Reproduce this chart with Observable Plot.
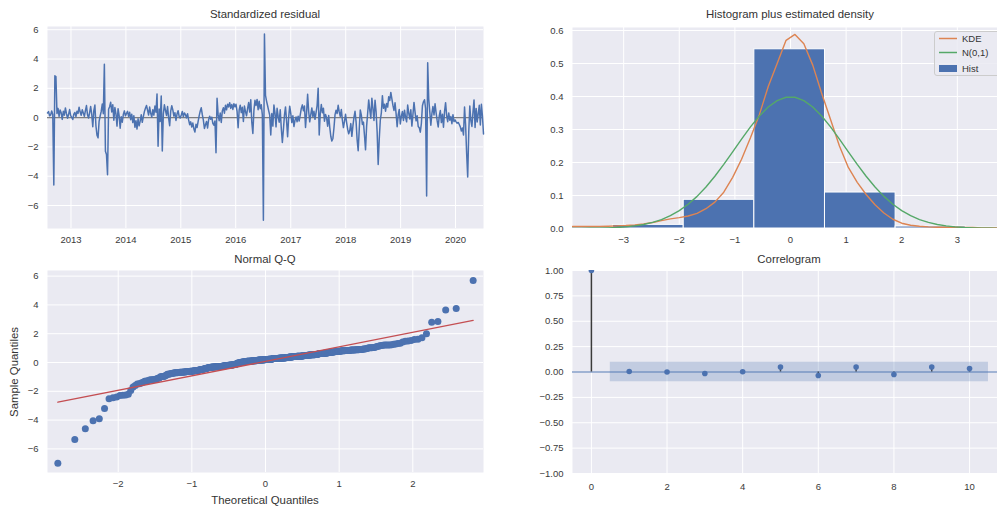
<!DOCTYPE html>
<html><head><meta charset="utf-8">
<script src="https://cdn.jsdelivr.net/npm/d3@7"></script>
<script src="https://cdn.jsdelivr.net/npm/@observablehq/plot@0.6"></script>
<style>
body{margin:0;background:#fff;}
#wrap{position:relative;width:997px;height:508px;overflow:hidden;background:#fff;font-family:"Liberation Sans",Arial,sans-serif;color:#333;}
.lbl{position:absolute;white-space:nowrap;line-height:1;}
</style></head><body><div id="wrap"></div>
<script>
// ---------- data ----------
const startDate = "2012-07-29"; // first weekly observation
const resid2012 = [0.32,0.41,0.12,0.18,0.45,0.22,-4.6,2.85,2.8,0.28,0.63,0.08,0.52,0.33,-0.12,0.43,0.17,0.66,0.27,-0.04,0.21,0.55,0.13];
const resid2013 = [0.02,-0.13,0.24,0.35,0.07,0.44,0.29,0.71,0.38,0.16,0.53,0.31,0.09,0.47,0.82,0.19,-0.03,0.34,0.76,0.23,-0.62,0.48,0.86,-0.57,-1.2,-1.38,-0.26,0.11,0.42,0.93,0.27,3.65,-2.3,-2.52,-3.9,0.57,0.74,1.05,0.39,0.88,-0.18,0.69,0.26,-0.58,0.61,0.14,-0.72,0.06,-0.31,0.21,0.46,0.12];
const resid2014 = [0.28,0.43,0.09,0.36,-0.14,0.23,-0.34,0.13,-0.66,-0.21,-0.78,-0.08,-0.56,-0.24,0.19,-0.32,0.07,0.41,0.64,0.83,0.51,0.18,0.72,0.29,0.04,0.54,0.17,0.79,0.37,1.62,-1.95,0.58,-0.27,1.48,-2.28,0.26,0.87,0.49,0.15,0.76,-0.02,-0.55,0.44,0.81,0.52,0.11,0.33,-0.19,0.24,0.47,0.08,-0.03];
const resid2015 = [0.18,0.42,0.06,0.32,0.21,-0.02,0.27,-0.16,-0.48,-0.29,-0.64,-0.37,-0.77,-0.98,-0.46,-0.68,-0.28,0.12,0.44,0.67,0.2,-0.17,-0.74,-0.49,-0.26,-0.71,-0.14,0.09,-0.11,0.03,-0.39,-0.52,-0.23,-2.4,1.32,0.22,-0.21,0.31,-0.33,0.46,0.68,0.3,0.84,0.53,0.92,0.73,1.02,0.63,0.89,0.56,0.95,0.74];
const resid2016 = [0.91,0.43,-0.69,0.52,0.85,0.34,0.71,-0.27,0.79,0.41,0.13,0.62,1.03,0.38,1.22,-0.33,-1.08,0.49,1.18,0.83,1.24,0.54,1.12,0.61,0.88,0.19,-7.0,5.7,1.52,1.13,0.81,0.48,0.17,-1.19,0.28,-0.58,0.86,0.32,-0.63,0.64,0.08,-0.31,0.53,-0.74,-1.7,-0.82,0.16,0.73,-0.22,-1.31,0.02,0.78];
const resid2017 = [0.29,-0.34,0.12,-0.61,-0.19,0.04,-0.28,0.1,-0.23,0.18,0.63,0.87,0.47,0.79,-0.67,0.31,1.6,0.42,-0.29,0.21,0.66,0.07,0.43,-0.12,0.34,0.82,2.0,-1.18,0.27,0.89,0.33,0.64,-0.24,0.22,-0.01,-0.59,0.14,-0.66,-1.27,-1.6,-1.42,-0.71,0.19,0.51,0.28,0.84,0.39,0.09,0.55,-0.17,-0.68,-0.26,0.23];
const resid2018 = [-0.32,-0.79,-1.1,-0.88,-0.41,-1.28,-0.57,0.01,0.43,-0.27,-1.5,-2.26,-0.81,0.52,0.17,-0.47,-0.31,-1.22,-2.2,-0.6,0.29,1.21,0.53,-0.04,1.33,0.62,-0.19,1.19,0.41,-0.97,-3.2,-1.48,-0.18,0.32,1.5,0.64,0.91,0.44,0.97,0.72,1.43,1.17,1.72,1.28,0.83,0.49,1.01,0.27,-0.62,0.19,0.56,-0.43];
const resid2019 = [0.08,0.42,-0.19,0.51,0.02,-0.29,0.86,0.31,-0.09,0.54,-0.58,0.21,1.04,0.38,-0.22,0.12,-0.61,-0.69,-0.99,-0.41,0.81,1.08,1.22,0.62,-5.35,3.75,1.27,0.39,-0.52,0.28,0.76,0.18,0.94,0.33,-0.21,-0.64,0.11,0.48,-0.34,0.23,-0.66,0.41,1.02,0.16,-0.28,0.32,-0.18,0.07,-0.42,0.2,-0.27,-0.16];
const resid2020 = [-0.29,-0.38,-0.33,-0.47,-0.63,-0.92,-0.71,-1.18,0.72,-0.49,-2.45,-4.05,-0.98,0.79,-0.2,-0.6,0.37,1.21,-0.68,0.63,-0.3,0.27,0.84,-0.51,0.91,0.1,-1.12];
const yearTicks = [2013,2014,2015,2016,2017,2018,2019,2020];

// histogram (density per bin, 10 bins over the residual range)
const histEdges = [-7.0,-5.73,-4.46,-3.19,-1.92,-0.65,0.62,1.89,3.16,4.43,5.7];
const histDensity = [0.002,0.002,0.004,0.011,0.087,0.543,0.109,0.006,0.004,0.002];
// KDE read on a 50-point grid from -3.92 to 3.92
const kdeValues = [0.006,0.006,0.006,0.006,0.007,0.008,0.009,0.011,0.014,0.018,0.024,0.029,0.033,0.038,0.046,0.060,0.080,0.110,0.155,0.210,0.275,0.345,0.430,0.500,0.570,0.588,0.560,0.495,0.410,0.330,0.250,0.185,0.140,0.103,0.072,0.047,0.028,0.016,0.010,0.007,0.005,0.004,0.004,0.004,0.003,0.003,0.002,0.002,0.002,0.002];
const legendLabels = ["KDE","N(0,1)","Hist"];

// correlogram
const acfLags = [0,1,2,3,4,5,6,7,8,9,10];
const acfValues = [1.0,0.005,0.0,-0.015,0.002,0.05,-0.035,0.05,-0.025,0.05,0.035];
const acfConf = [0.095,0.095,0.095,0.095,0.095,0.095,0.095,0.095,0.095,0.095];

// ---------- helpers ----------
const FONT = '"Liberation Sans", Arial, sans-serif';
const BLUE = "#4C72B0", ORANGE = "#DD8452", GREEN = "#55A868", RED = "#C44E52";
const wrap = document.getElementById("wrap");
const W = 1020, H = 508;

function qnorm(p){
  const a=[-3.969683028665376e+01,2.209460984245205e+02,-2.759285104469687e+02,1.383577518672690e+02,-3.066479806614716e+01,2.506628277459239e+00];
  const b=[-5.447609879822406e+01,1.615858368580409e+02,-1.556989798598866e+02,6.680131188771972e+01,-1.328068155833025e+01];
  const c=[-7.784894002430293e-03,-3.223964580411365e-01,-2.400758277161838e+00,-2.549671010331044e+00,4.374664141464968e+00,2.938163982698783e+00];
  const d=[7.784695709041462e-03,3.224671290700398e-01,2.445134137142996e+00,3.754408661907416e+00];
  const pl=0.02425, ph=1-pl; let q, r;
  if(p<pl){q=Math.sqrt(-2*Math.log(p));return (((((c[0]*q+c[1])*q+c[2])*q+c[3])*q+c[4])*q+c[5])/((((d[0]*q+d[1])*q+d[2])*q+d[3])*q+1);}
  if(p>ph){q=Math.sqrt(-2*Math.log(1-p));return -(((((c[0]*q+c[1])*q+c[2])*q+c[3])*q+c[4])*q+c[5])/((((d[0]*q+d[1])*q+d[2])*q+d[3])*q+1);}
  q=p-0.5; r=q*q;
  return (((((a[0]*r+a[1])*r+a[2])*r+a[3])*r+a[4])*r+a[5])*q/(((((b[0]*r+b[1])*r+b[2])*r+b[3])*r+b[4])*r+1);
}

function panel(frame, o){
  const [x0,y0,x1,y1] = frame;
  const svg = Plot.plot({
    width: W, height: H,
    marginLeft: x0, marginTop: y0, marginRight: W - x1, marginBottom: H - y1,
    style: {fontFamily: FONT, fontSize: "9.5px", color: "#3a3a3a", background: "transparent", overflow: "visible", maxWidth: "none"},
    x: o.x, y: o.y,
    marks: [
      Plot.frame({fill: "#EAEAF2", stroke: "none"}),
      Plot.gridX(o.xTicks, {stroke: "#fff", strokeOpacity: 1, strokeWidth: 1}),
      Plot.gridY(o.yTicks, {stroke: "#fff", strokeOpacity: 1, strokeWidth: 1}),
      ...o.marks,
      Plot.axisX(o.xTicks, {tickSize: 0, tickPadding: o.xPad ?? 8, tickFormat: o.xFmt, label: null}),
      Plot.axisY(o.yTicks, {tickSize: 0, tickPadding: o.yPad ?? 9, tickFormat: o.yFmt, label: null})
    ]
  });
  svg.style.position = "absolute"; svg.style.left = "0px"; svg.style.top = "0px"; svg.style.maxWidth = "none";
  wrap.appendChild(svg);
}
function label(text, cx, cy, size, rot){
  const d = document.createElement("div");
  d.className = "lbl"; d.textContent = text;
  d.style.left = cx + "px"; d.style.top = cy + "px"; d.style.fontSize = size + "px";
  d.style.transform = "translate(-50%,-50%)" + (rot ? " rotate(-90deg)" : "");
  wrap.appendChild(d);
}

// ---------- derived tables ----------
const resid = [].concat(resid2012,resid2013,resid2014,resid2015,resid2016,resid2017,resid2018,resid2019,resid2020);
const t0 = new Date(startDate + "T00:00:00Z");
const series = resid.map((v,i) => ({date: d3.utcDay.offset(t0, 7*i), value: v}));
const yearDates = yearTicks.map(y => new Date(Date.UTC(y,0,1)));

const hist = histDensity.map((v,i) => ({x1: histEdges[i], x2: histEdges[i+1], y: v}));
const kdeX = d3.range(kdeValues.length).map(i => -3.92 + i*7.84/(kdeValues.length-1));
const kde = kdeX.map((x,i) => ({x, y: kdeValues[i]}));
const norm = kdeX.map(x => ({x, y: Math.exp(-x*x/2)/Math.sqrt(2*Math.PI)}));

const n = resid.length;
const sorted = resid.slice().sort(d3.ascending);
const qq = sorted.map((v,i) => ({t: qnorm((i+1)/(n+1)), s: v}));
const mu = d3.mean(resid), sd = Math.sqrt(d3.mean(resid, v => (v-mu)**2));
const qqLine = [qq[0].t, qq[n-1].t].map(t => ({t, s: mu + sd*t}));

const acf = acfLags.map((l,i) => ({lag: l, v: acfValues[i]}));
const band = acfConf.map((c,i) => {
  const lag = acfLags[i+1];
  const x = i === 0 ? lag - 0.5 : (i === acfConf.length-1 ? lag + 0.5 : lag);
  return {x, lo: -c, hi: c};
});

// ---------- panels ----------
panel([47,26,483,228], {
  x: {type: "utc", domain: [series[0].date, series[n-1].date]},
  y: {domain: [-7.57, 6.22]},
  xTicks: yearDates, yTicks: [-6,-4,-2,0,2,4,6],
  xFmt: d3.utcFormat("%Y"), yFmt: d3.format("d"),
  marks: [
    Plot.ruleY([0], {stroke: "#000", strokeOpacity: 0.5, strokeWidth: 1.2}),
    Plot.line(series, {x: "date", y: "value", stroke: BLUE, strokeWidth: 1.5})
  ]
});

panel([572,27,1008,228], {
  x: {domain: [-3.92, 3.92]},
  y: {domain: [0, 0.609]},
  xTicks: [-3,-2,-1,0,1,2,3], yTicks: [0,0.1,0.2,0.3,0.4,0.5,0.6],
  xFmt: d3.format("d"), yFmt: d3.format(".1f"),
  marks: [
    Plot.rectY(hist, {x1: "x1", x2: "x2", y: "y", fill: BLUE, stroke: "#fff", strokeWidth: 1, inset: 0, clip: true}),
    Plot.line(kde, {x: "x", y: "y", stroke: ORANGE, strokeWidth: 1.4, clip: true}),
    Plot.line(norm, {x: "x", y: "y", stroke: GREEN, strokeWidth: 1.4, clip: true})
  ]
});

panel([47,270,483,472], {
  x: {domain: [-2.96, 2.96]},
  y: {domain: [-7.64, 6.39]},
  xTicks: [-2,-1,0,1,2], yTicks: [-6,-4,-2,0,2,4,6],
  xFmt: d3.format("d"), yFmt: d3.format("d"),
  marks: [
    Plot.dot(qq, {x: "t", y: "s", r: 3.5, fill: BLUE, stroke: "none"}),
    Plot.line(qqLine, {x: "t", y: "s", stroke: RED, strokeWidth: 1.3})
  ]
});

panel([572,270,1008,473], {
  x: {domain: [-0.5, 11.03]},
  y: {domain: [-1, 1]},
  xTicks: [0,2,4,6,8,10], yTicks: [-1,-0.75,-0.5,-0.25,0,0.25,0.5,0.75,1],
  xFmt: d3.format("d"), yFmt: d3.format(".2f"), xPad: 10,
  marks: [
    Plot.ruleY([0], {stroke: BLUE, strokeWidth: 1.2}),
    Plot.ruleX(acf, {x: "lag", y1: 0, y2: "v", stroke: "#3a3a3a", strokeWidth: 1.5}),
    Plot.dot(acf, {x: "lag", y: "v", r: 2.8, fill: BLUE, stroke: "none", clip: true}),
    Plot.areaY(band, {x: "x", y1: "lo", y2: "hi", fill: BLUE, fillOpacity: 0.25})
  ]
});

// ---------- text ----------
label("Standardized residual", 265, 15, 11.4);
label("Histogram plus estimated density", 790, 15, 11.4);
label("Normal Q-Q", 265, 260, 11.4);
label("Correlogram", 789, 260, 11.4);
label("Theoretical Quantiles", 265, 501, 11.4);
label("Sample Quantiles", 15, 372, 11.4, true);

// legend
const ns = "http://www.w3.org/2000/svg";
const lg = document.createElementNS(ns, "svg");
lg.setAttribute("width", 80); lg.setAttribute("height", 46);
lg.style.position = "absolute"; lg.style.left = "934px"; lg.style.top = "31px";
lg.innerHTML =
  `<rect x="0.5" y="0.5" width="78" height="44" rx="2.5" fill="#EAEAF2" fill-opacity="0.85" stroke="#cccccc"/>` +
  `<line x1="5" x2="23" y1="7.5" y2="7.5" stroke="${ORANGE}" stroke-width="1.5"/>` +
  `<line x1="5" x2="23" y1="21.5" y2="21.5" stroke="${GREEN}" stroke-width="1.5"/>` +
  `<rect x="5" y="34" width="18" height="7" fill="${BLUE}"/>` +
  legendLabels.map((t,i) => `<text x="28" y="${[11,25,41][i]}" font-family='${FONT}' font-size="9.5" fill="#333">${t}</text>`).join("");
wrap.appendChild(lg);
</script></body></html>
